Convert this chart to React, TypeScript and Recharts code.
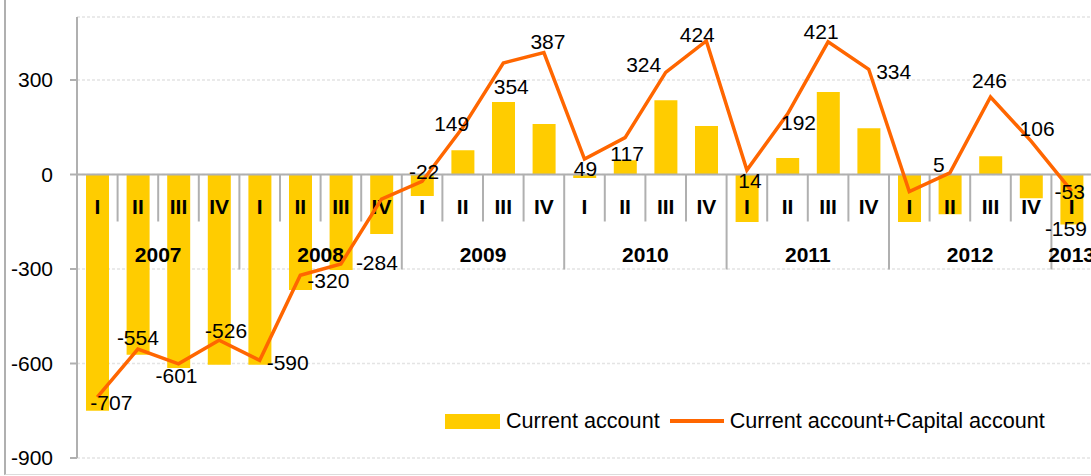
import React from 'react';
import {
  ComposedChart,
  Bar,
  Line,
  XAxis,
  YAxis,
  CartesianGrid,
  ReferenceLine,
  LabelList,
  Legend,
} from 'recharts';

// ---------- data ----------
const quarterLabels = [
  'I', 'II', 'III', 'IV',
  'I', 'II', 'III', 'IV',
  'I', 'II', 'III', 'IV',
  'I', 'II', 'III', 'IV',
  'I', 'II', 'III', 'IV',
  'I', 'II', 'III', 'IV',
  'I',
];
const yearLabels = [
  '2007', '2007', '2007', '2007',
  '2008', '2008', '2008', '2008',
  '2009', '2009', '2009', '2009',
  '2010', '2010', '2010', '2010',
  '2011', '2011', '2011', '2011',
  '2012', '2012', '2012', '2012',
  '2013',
];
const currentAccount = [
  -750, -572, -614, -604,
  -604, -367, -303, -189,
  -68, 77, 230, 160,
  -11, 45, 236, 154,
  -151, 52, 262, 147,
  -151, -126, 58, -75,
  -159,
];
const currentPlusCapital = [
  -707, -554, -601, -526,
  -590, -320, -284, -78,
  -22, 149, 354, 387,
  49, 117, 324, 424,
  14, 192, 421, 334,
  -54, 5, 246, 106,
  -53,
];
const lineLabels: (string | null)[] = [
  '-707', '-554', '-601', '-526',
  '-590', '-320', '-284', null,
  '-22', '149', '354', '387',
  '49', '117', '324', '424',
  '14', '192', '421', '334',
  null, '5', '246', '106',
  '-53',
];
const barLabels: (string | null)[] = [
  null, null, null, null,
  null, null, null, null,
  null, null, null, null,
  null, null, null, null,
  null, null, null, null,
  null, null, null, null,
  '-159',
];
const yTicks = [-900, -600, -300, 0, 300];
const yDomain: [number, number] = [-900, 500];
const seriesNames = { bar: 'Current account', line: 'Current account+Capital account' };

const data = quarterLabels.map((q, i) => ({
  key: `${yearLabels[i]} ${q}`,
  quarter: q,
  year: yearLabels[i],
  ca: currentAccount[i],
  cac: currentPlusCapital[i],
}));

// ---------- styles ----------
const FONT = '"Liberation Sans", Arial, Helvetica, sans-serif';
const BAR_COLOR = '#FFCC00';
const LINE_COLOR = '#FF6600';
const AXIS_COLOR = '#B0B0B0';
const FS = 21;

// label offsets (dx, dy) relative to each line point — placement styling
const lineLabelOffsets: [number, number][] = [
  [14, 5], [0, -12], [-2, 12], [7, -10],
  [28, 2], [28, 5], [36, -2], [0, 0],
  [2, -10], [-11, -4], [8, 23], [4, -11],
  [1, 9], [2, 16], [-22, -8], [-9, -7],
  [3, 10], [11, 8], [-7, -10], [25, 2],
  [0, 0], [-11, -8], [-1, -17], [6, -13],
  [-2, 0],
];

const CategoryAxisShape = (props: any) => {
  const { x1, y1, x2 } = props;
  const n = data.length;
  const bw = (x2 - x1) / n;
  const items: React.ReactNode[] = [];
  // zero line
  items.push(
    <line key="zero" x1={x1} y1={y1} x2={x2} y2={y1} stroke={AXIS_COLOR} strokeWidth={2} />
  );
  data.forEach((d, i) => {
    const left = x1 + i * bw;
    const cx = left + bw / 2;
    if (i > 0) {
      const yearBoundary = data[i - 1].year !== d.year;
      items.push(
        <line
          key={`sep${i}`}
          x1={left}
          x2={left}
          y1={y1}
          y2={y1 + (yearBoundary ? 95 : 47)}
          stroke={AXIS_COLOR}
          strokeWidth={2}
        />
      );
    }
    items.push(
      <text
        key={`q${i}`}
        x={cx}
        y={y1 + 32}
        dy="0.36em"
        textAnchor="middle"
        fontFamily={FONT}
        fontSize={FS}
        fontWeight="bold"
        fill="#000"
      >
        {d.quarter}
      </text>
    );
  });
  // year labels
  const years = Array.from(new Set(data.map((d) => d.year)));
  years.forEach((yr) => {
    const idx = data.map((d, i) => (d.year === yr ? i : -1)).filter((i) => i >= 0);
    const first = idx[0];
    const last = idx[idx.length - 1];
    const cx = x1 + ((first + last + 1) / 2) * bw;
    items.push(
      <text
        key={`y${yr}`}
        x={cx}
        y={y1 + 80}
        dy="0.36em"
        textAnchor="middle"
        fontFamily={FONT}
        fontSize={FS}
        fontWeight="bold"
        fill="#000"
      >
        {yr}
      </text>
    );
  });
  return <g>{items}</g>;
};

const LineLabel = (props: any) => {
  const { index } = props;
  const x = props.x ?? props.viewBox?.x;
  const y = props.y ?? props.viewBox?.y;
  const txt = lineLabels[index];
  if (txt == null || x == null || y == null) return null;
  const [dx, dy] = lineLabelOffsets[index] || [0, 0];
  return (
    <text
      x={x + dx}
      y={y + dy}
      dy="0.36em"
      textAnchor="middle"
      fontFamily={FONT}
      fontSize={FS}
      fill="#000"
    >
      {txt}
    </text>
  );
};

const BarLabel = (props: any) => {
  const { index } = props;
  const txt = barLabels[index];
  if (txt == null) return null;
  const x = props.x ?? props.viewBox?.x;
  const y = props.y ?? props.viewBox?.y;
  const w = props.width ?? props.viewBox?.width ?? 0;
  const h = props.height ?? props.viewBox?.height ?? 0;
  const bottom = Math.max(y, y + h);
  return (
    <text
      x={x + w / 2 - 6}
      y={bottom + 4}
      dy="0.36em"
      textAnchor="middle"
      fontFamily={FONT}
      fontSize={FS}
      fill="#000"
    >
      {txt}
    </text>
  );
};

const renderLegend = () => (
  <div
    style={{
      display: 'flex',
      alignItems: 'center',
      fontFamily: FONT,
      fontSize: 21.6,
      color: '#000',
      lineHeight: '24px',
      whiteSpace: 'nowrap',
    }}
  >
    <span style={{ display: 'inline-block', width: 55, height: 15, background: BAR_COLOR, marginRight: 6 }} />
    <span>{seriesNames.bar}</span>
    <span style={{ display: 'inline-block', width: 54, height: 4, background: LINE_COLOR, marginLeft: 10, marginRight: 6 }} />
    <span>{seriesNames.line}</span>
  </div>
);

export default function App() {
  return (
    <div
      style={{
        position: 'absolute',
        left: 0,
        top: 0,
        width: 1091,
        height: 476,
        overflow: 'hidden',
        background: '#fff',
        fontFamily: FONT,
      }}
    >
      <div
        style={{
          position: 'absolute',
          left: 4,
          top: 0,
          width: 1100,
          height: 474,
          borderLeft: `2px solid ${AXIS_COLOR}`,
          borderBottom: '1px solid #DCDCDC',
        }}
      />
      <ComposedChart
        width={1092}
        height={476}
        data={data}
        margin={{ top: 17, right: 0, left: 0, bottom: 18 }}
        barCategoryGap={0}
      >
        <CartesianGrid
          horizontal
          vertical={false}
          stroke="#E4E4E4"
          strokeDasharray="3 2"
          strokeWidth={1.5}
        />
        <XAxis dataKey="key" type="category" hide />
        <YAxis
          type="number"
          domain={yDomain}
          ticks={yTicks}
          interval={0}
          width={77}
          tickSize={7}
          tickMargin={17}
          axisLine={{ stroke: AXIS_COLOR, strokeWidth: 2 }}
          tickLine={{ stroke: AXIS_COLOR, strokeWidth: 2 }}
          tick={{ fontSize: FS, fill: '#000', fontFamily: FONT }}
          allowDataOverflow
        />
        <Bar dataKey="ca" name={seriesNames.bar} fill={BAR_COLOR} barSize={23} isAnimationActive={false}>
          <LabelList dataKey="ca" content={BarLabel} />
        </Bar>
        <ReferenceLine y={0} shape={CategoryAxisShape} ifOverflow="visible" />
        <Line
          type="linear"
          dataKey="cac"
          name={seriesNames.line}
          stroke={LINE_COLOR}
          strokeWidth={3.5}
          dot={false}
          activeDot={false}
          isAnimationActive={false}
        >
          <LabelList dataKey="cac" content={LineLabel} />
        </Line>
        <Legend
          layout="horizontal"
          verticalAlign="middle"
          align="center"
          wrapperStyle={{ left: 445, top: 409, width: 640, height: 24 }}
          content={renderLegend}
        />
      </ComposedChart>
    </div>
  );
}
